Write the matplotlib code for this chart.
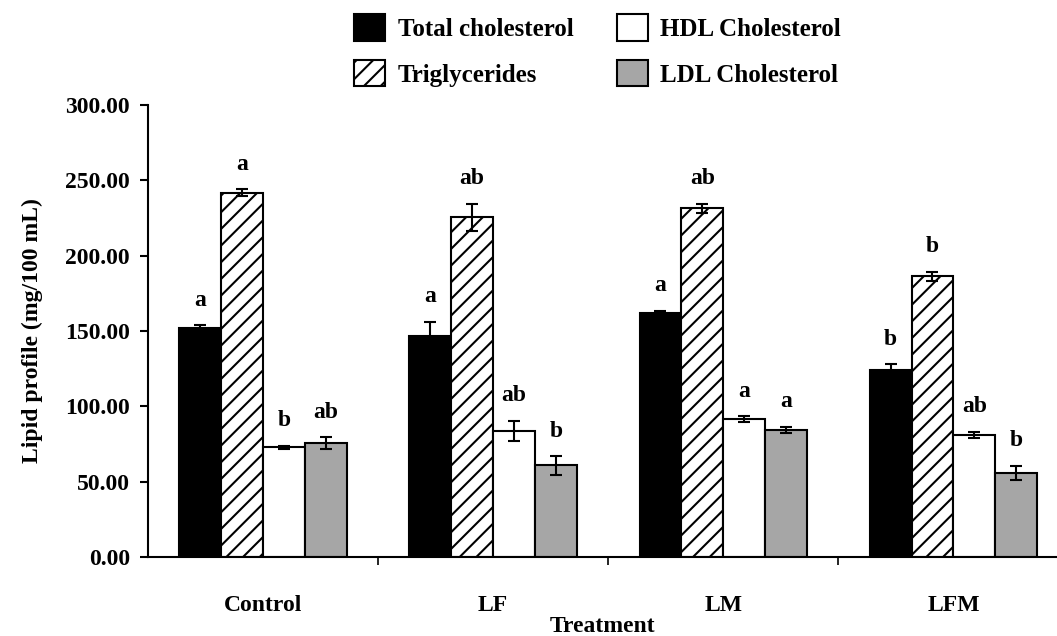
import matplotlib
matplotlib.use('Agg')
import matplotlib.pyplot as plt
import numpy as np

treatments = ['Control', 'LF', 'LM', 'LFM']
series = ['Total cholesterol', 'Triglycerides', 'HDL Cholesterol', 'LDL Cholesterol']

total = [151.8, 146.7, 161.7, 124.1]
total_err = [2.0, 9.3, 1.8, 3.8]
trig = [241.8, 225.4, 231.4, 186.3]
trig_err = [2.4, 8.9, 2.9, 3.1]
hdl = [72.8, 83.6, 91.6, 81.0]
hdl_err = [1.2, 6.8, 2.0, 2.2]
ldl = [75.5, 60.8, 84.3, 56.0]
ldl_err = [4.0, 6.2, 2.2, 4.6]

letters_total = ['a', 'a', 'a', 'b']
letters_trig = ['a', 'ab', 'ab', 'b']
letters_hdl = ['b', 'ab', 'a', 'ab']
letters_ldl = ['ab', 'b', 'a', 'b']

plt.rcParams['font.family'] = ['Liberation Serif', 'DejaVu Serif']
plt.rcParams['font.weight'] = 'bold'
plt.rcParams['hatch.linewidth'] = 1.5
plt.rcParams['hatch.color'] = 'black'

fig = plt.figure(figsize=(10.57, 6.36), dpi=100)
ax = fig.add_axes([0.140, 0.124, 0.860, 0.711])

x = np.arange(len(treatments))
w = 0.182
styles = [dict(color='black', hatch=None),
          dict(color='white', hatch='//'),
          dict(color='white', hatch=None),
          dict(color='#a6a6a6', hatch=None)]
data = [(total, total_err, letters_total),
        (trig, trig_err, letters_trig),
        (hdl, hdl_err, letters_hdl),
        (ldl, ldl_err, letters_ldl)]

for i, ((vals, errs, lets), st, name) in enumerate(zip(data, styles, series)):
    pos = x + (i - 1.5) * w
    ax.bar(pos, vals, width=w, color=st['color'], hatch=st['hatch'],
           edgecolor='black', linewidth=1.5, label=name, zorder=2)
    ax.errorbar(pos, vals, yerr=errs, fmt='none', ecolor='black',
                elinewidth=1.5, capsize=4, capthick=1.5, zorder=3)
    for p, v, e, t in zip(pos, vals, errs, lets):
        ax.annotate(t, (p, v + e), xytext=(0, 18), textcoords='offset points',
                    ha='center', va='center', fontsize=17, fontweight='bold')

ax.set_xlim(-0.5, 3.45)
ax.set_ylim(0, 300)
ax.set_yticks(np.arange(0, 301, 50))
ax.set_yticklabels(['{:.2f}'.format(v) for v in np.arange(0, 301, 50)])
ax.set_xticks(x)
ax.set_xticklabels(treatments)
ax.set_xticks([0.5, 1.5, 2.5], minor=True)
ax.tick_params(axis='x', which='major', length=0, pad=27, labelsize=17)
ax.tick_params(axis='x', which='minor', length=6, width=1.2, direction='out')
ax.tick_params(axis='y', length=6, width=1.5, pad=7, labelsize=17)

for s in ['top', 'right']:
    ax.spines[s].set_visible(False)
for s in ['left', 'bottom']:
    ax.spines[s].set_linewidth(1.5)

ax.set_ylabel('Lipid profile (mg/100 mL)', fontsize=17, fontweight='bold', labelpad=16)
ax.set_xlabel('Treatment', fontsize=17, fontweight='bold', labelpad=0)

fig.legend(loc='upper left', bbox_to_anchor=(0.3235, 0.997), ncol=2, frameon=False,
           prop={'size': 18, 'weight': 'bold'}, handlelength=1.23, handleheight=1.23,
           labelspacing=0.78, columnspacing=1.75, handletextpad=0.5, borderpad=0)

fig.savefig('out.png', dpi=100)
